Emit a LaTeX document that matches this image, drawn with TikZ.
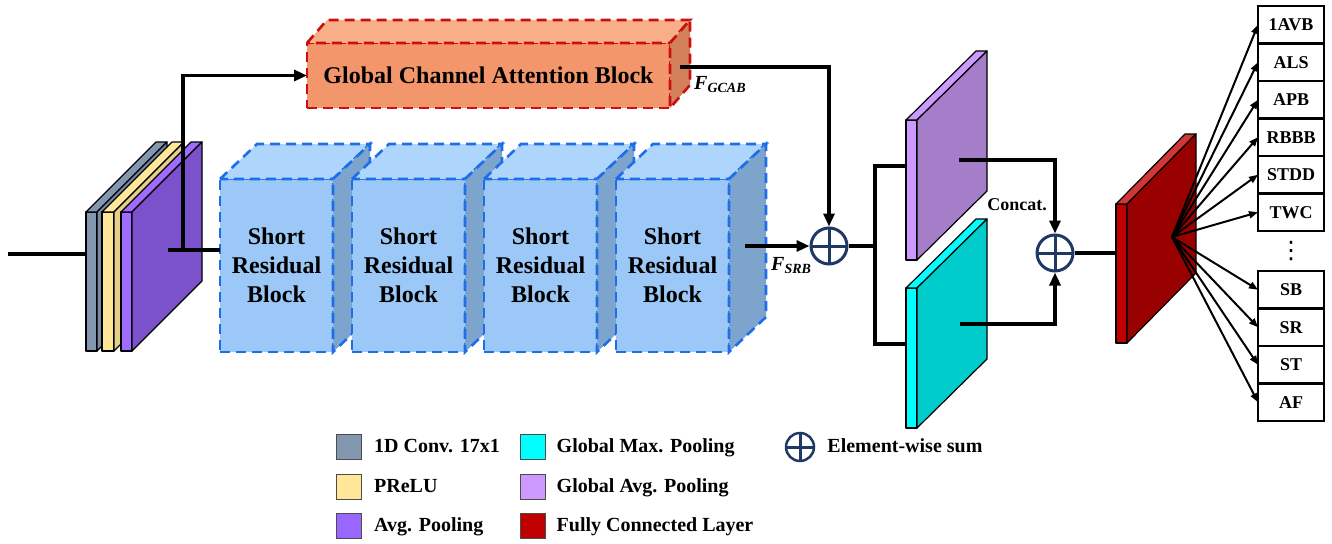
\documentclass[tikz,border=0pt]{standalone}
\usepackage{fontspec}
\setmainfont{Liberation Serif}
\newfontfamily\symfont{DejaVu Sans}
\usetikzlibrary{arrows.meta,positioning}

\definecolor{convfront}{RGB}{132,151,176}
\definecolor{convside}{RGB}{120,137,161}
\definecolor{relufront}{RGB}{255,230,153}
\definecolor{reluside}{RGB}{230,207,138}
\definecolor{poolfront}{RGB}{160,108,255}
\definecolor{poolside}{RGB}{124,82,204}
\definecolor{poolswatch}{RGB}{153,102,255}
\definecolor{gcabfront}{RGB}{244,150,108}
\definecolor{gcabtop}{RGB}{249,174,138}
\definecolor{gcabside}{RGB}{212,128,90}
\definecolor{gcabline}{RGB}{200,16,16}
\definecolor{srbfront}{RGB}{155,200,246}
\definecolor{srbtop}{RGB}{174,213,251}
\definecolor{srbside}{RGB}{124,164,204}
\definecolor{srbline}{RGB}{30,110,235}
\definecolor{gapfront}{RGB}{204,153,255}
\definecolor{gapside}{RGB}{165,125,201}
\definecolor{gmpfront}{RGB}{0,255,255}
\definecolor{gmpside}{RGB}{0,204,204}
\definecolor{fcfront}{RGB}{192,0,0}
\definecolor{fcside}{RGB}{153,0,0}
\definecolor{fctop}{RGB}{210,55,55}
\definecolor{sumblue}{RGB}{31,56,100}

% top and side faces behind a front-face node
\newcommand{\drawfaces}[6]{%
  \filldraw[fill=#5,#6] (#1.north west) -- ++(#2,-#3) -- ([shift={(#2,-#3)}]#1.north east) -- (#1.north east) -- cycle;
  \filldraw[fill=#4,#6] (#1.north east) -- ++(#2,-#3) -- ([shift={(#2,-#3)}]#1.south east) -- (#1.south east) -- cycle;
}

\tikzset{
  slabline/.style={draw=black, line width=1.2pt, line join=round},
  slab/.style={slabline, minimum width=11pt, minimum height=139pt, inner sep=0pt, outer sep=0pt},
  redline/.style={draw=gcabline, line width=2.6pt, dash pattern=on 10pt off 6pt},
  blueline/.style={draw=srbline, line width=2.6pt, dash pattern=on 10pt off 6pt},
  gcab/.style={redline, fill=gcabfront, minimum width=363pt, minimum height=65pt, inner sep=0pt, outer sep=0pt,
    font=\fontsize{24}{29}\selectfont\bfseries},
  srb/.style={blueline, fill=srbfront, minimum width=113pt, minimum height=173pt, inner sep=0pt, outer sep=0pt,
    align=center, font=\fontsize{24}{29}\selectfont\bfseries},
  sumnode/.style={circle, draw=sumblue, line width=3pt, minimum size=36pt, inner sep=0pt,
    path picture={\draw[sumblue, line width=3pt] (path picture bounding box.north) -- (path picture bounding box.south)
      (path picture bounding box.west) -- (path picture bounding box.east);}},
  conn/.style={line width=3.2pt},
  arr/.style={-{Triangle[length=13pt,width=11pt]}},
  fanarr/.style={line width=2pt, -{Triangle[length=9pt,width=7pt]}},
  cls/.style={draw=black, line width=2.2pt, fill=white, minimum width=66pt, minimum height=37.5pt, inner sep=0pt,
    outer sep=0pt, font=\fontsize{18}{20}\selectfont\bfseries},
  swatch/.style={draw=black!70, line width=1pt, minimum size=25pt, inner sep=0pt},
  legtext/.style={inner sep=0pt, text height=15pt, text depth=4pt, font=\fontsize{20}{24}\selectfont\bfseries},
}

\begin{document}
\begin{tikzpicture}[x=1pt, y=-1pt]
  \useasboundingbox (0,0) rectangle (1332,543);

  % input layers
  \node[slab, fill=convfront] (conv) at (91.5,281.5) {};
  \drawfaces{conv}{70}{70}{convside}{convfront}{slabline}
  \node[slab, fill=relufront, minimum width=12pt] (relu) at (108,281.5) {};
  \drawfaces{relu}{70}{70}{reluside}{relufront}{slabline}
  \node[slab, fill=poolfront] (pool) at (126.5,281.5) {};
  \drawfaces{pool}{70}{70}{poolside}{poolfront}{slabline}

  % attention branch
  \node[gcab] (gcab) at (488.5,75.5) {Global Channel Attention Block};
  \drawfaces{gcab}{20}{23}{gcabside}{gcabtop}{redline}

  % residual blocks
  \foreach \i/\x in {1/276.5,2/408.5,3/540.5,4/672.5} {
    \node[srb] (srb\i) at (\x,265.5) {Short\\Residual\\Block};
    \drawfaces{srb\i}{37}{35}{srbside}{srbtop}{blueline}
  }

  % pooling and fc
  \node[slab, minimum height=140pt, fill=gapfront] (gap) at (911.5,190) {};
  \drawfaces{gap}{70}{69}{gapside}{gapfront}{slabline}
  \node[slab, minimum height=140pt, fill=gmpfront] (gmp) at (911.5,358) {};
  \drawfaces{gmp}{70}{69}{gmpside}{gmpfront}{slabline}
  \node[slab, fill=fcfront] (fc) at (1121.5,273.5) {};
  \drawfaces{fc}{69}{70}{fcside}{fctop}{slabline}

  \node[sumnode] (sum1) at (829,246) {};
  \node[sumnode] (sum2) at (1055,253) {};

  % connectors
  \coordinate (in) at (8,254);
  \coordinate (poolout) at (168,250);
  \coordinate (split) at (183,250);
  \coordinate (gcabout) at (680,67);
  \coordinate (srbout) at (745,246);
  \coordinate (branch) at (875,246);
  \coordinate (gapin) at (906,166);
  \coordinate (gmpin) at (906,344);
  \coordinate (gapout) at (959,160);
  \coordinate (gmpout) at (960,324);
  \draw[conn] (in) -- (in -| conv.west);
  \draw[conn] (poolout) -- (poolout -| srb1.west);
  \draw[conn,arr] (split) |- (gcab.west);
  \draw[conn,arr] (gcabout) -| (sum1.north);
  \draw[conn,arr] (srbout) -- (sum1.west);
  \draw[conn] (sum1.east) -- (branch);
  \draw[conn] (gapin) -| (branch) |- (gmpin);
  \draw[conn,arr] (gapout) -| (sum2.north);
  \draw[conn,arr] (gmpout) -| (sum2.south);
  \draw[conn] (sum2.east) -- (sum2 -| fc.west);

  \node[anchor=base west, inner sep=0pt, font=\fontsize{20}{22}\selectfont\bfseries\itshape] (fgcab) at (694,89) {F\textsubscript{GCAB}};
  \node[anchor=base west, inner sep=0pt, font=\fontsize{20}{22}\selectfont\bfseries\itshape] (fsrb) at (771,270) {F\textsubscript{SRB}};
  \node[font=\fontsize{18}{20}\selectfont\bfseries] (concat) at (1017,205) {Concat.};

  % classes
  \node[cls] (c1) at (1291,24.75) {1AVB};
  \node[cls, below=0pt of c1] (c2) {ALS};
  \node[cls, below=0pt of c2] (c3) {APB};
  \node[cls, below=0pt of c3] (c4) {RBBB};
  \node[cls, below=0pt of c4] (c5) {STDD};
  \node[cls, below=0pt of c5] (c6) {TWC};
  \node[inner sep=0pt, font=\fontsize{24}{24}\symfont] (dots) at (1291,251) {⋮};
  \node[cls] (c7) at (1291,289.75) {SB};
  \node[cls, below=0pt of c7] (c8) {SR};
  \node[cls, below=0pt of c8] (c9) {ST};
  \node[cls, below=0pt of c9] (c10) {AF};

  \coordinate (fan) at (1172,237);
  \foreach \i in {1,...,10}
    \draw[fanarr] (fan) -- (c\i.west);

  % legend
  \node[swatch, fill=convfront] (lconv) at (349,447) {};
  \node[legtext, right=12pt of lconv] (tconv) {1D Conv. 17x1};
  \node[swatch, fill=relufront] (lrelu) at (349,487) {};
  \node[legtext, right=12pt of lrelu] (trelu) {PReLU};
  \node[swatch, fill=poolswatch] (lpool) at (349,526) {};
  \node[legtext, right=12pt of lpool] (tpool) {Avg. Pooling};
  \node[swatch, fill=gmpfront] (lgmp) at (532.5,447) {};
  \node[legtext, right=11pt of lgmp] (tgmp) {Global Max. Pooling};
  \node[swatch, fill=gapfront] (lgap) at (532.5,487) {};
  \node[legtext, right=11pt of lgap] (tgap) {Global Avg. Pooling};
  \node[swatch, fill=fcfront] (lfc) at (532.5,526) {};
  \node[legtext, right=11pt of lfc] (tfc) {Fully Connected Layer};
  \node[sumnode, minimum size=28pt, line width=2.5pt] (lsum) at (800,447) {};
  \node[legtext, right=12pt of lsum] (tsum) {Element-wise sum};
\end{tikzpicture}
\end{document}
